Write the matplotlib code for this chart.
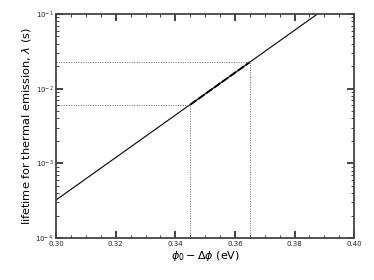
import matplotlib
matplotlib.use("Agg")
import matplotlib.pyplot as plt
from matplotlib.ticker import MultipleLocator, LogLocator

# data
line_x = [0.30, 0.40]
line_y = [3.23e-4, 0.224]
seg_x = [0.345, 0.365]
seg_y = [6.1e-3, 2.27e-2]
xlim = (0.30, 0.40)
ylim = (1e-4, 1e-1)
xticks = [0.30, 0.32, 0.34, 0.36, 0.38, 0.40]
xticklabels = ["0.30", "0.32", "0.34", "0.36", "0.38", "0.40"]

fig = plt.figure(figsize=(3.74, 2.80), dpi=100)
ax = fig.add_axes([0.150, 0.150, 0.797, 0.800])

ax.plot(line_x, line_y, color="black", lw=0.8)
ax.plot(seg_x, seg_y, color="black", lw=1.4, ls=(0, (4, 1)))
for xv, yv in zip(seg_x, seg_y):
    ax.plot([xlim[0], xv], [yv, yv], color="#666666", lw=0.7, ls=(0, (1, 1.5)))
    ax.plot([xv, xv], [ylim[0], yv], color="#666666", lw=0.7, ls=(0, (1, 1.5)))

ax.set_yscale("log")
ax.set_xlim(*xlim)
ax.set_ylim(*ylim)
ax.set_xticks(xticks)
ax.set_xticklabels(xticklabels)
ax.xaxis.set_minor_locator(MultipleLocator(0.005))
ax.yaxis.set_minor_locator(LogLocator(base=10, subs=range(2, 10)))

for s in ax.spines.values():
    s.set_linewidth(1.3)
    s.set_color("#444444")
ax.tick_params(which="both", direction="in", top=True, right=True, colors="#222222", labelsize=5)
ax.tick_params(which="major", length=5, width=1.2, pad=2)
ax.tick_params(axis="x", which="major", pad=2.5)
ax.tick_params(which="minor", length=2.5, width=0.6)

ax.set_xlabel(r"$\phi_0 - \Delta\phi$ (eV)", fontsize=8, labelpad=1)
ax.set_ylabel(r"lifetime for thermal emission, $\lambda$ (s)", fontsize=8.2, labelpad=2)

fig.savefig("out.png", dpi=100)
